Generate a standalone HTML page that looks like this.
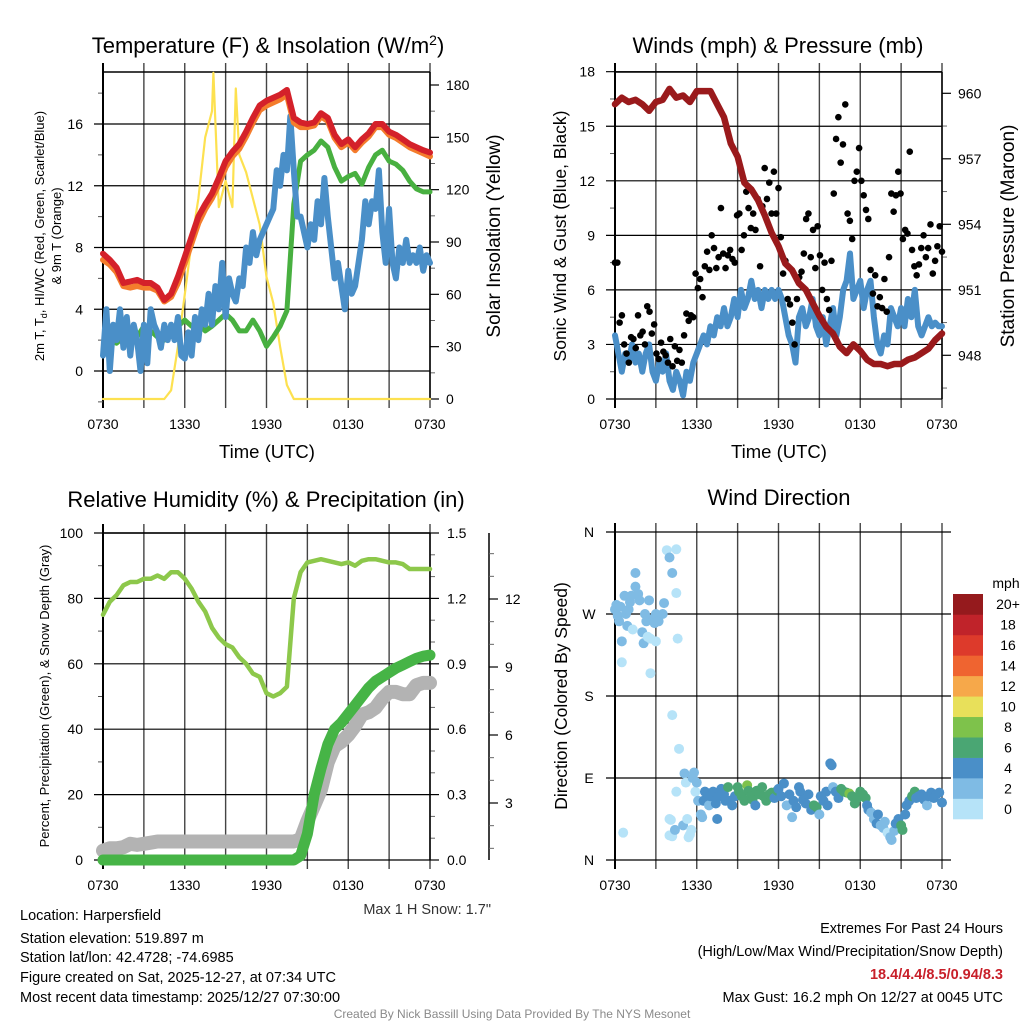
<!DOCTYPE html>
<html><head><meta charset="utf-8"><title>Harpersfield Meteogram</title>
<style>
html,body{margin:0;padding:0;background:#fff;}
svg{display:block;font-family:"Liberation Sans",Arial,sans-serif;}
</style></head>
<body>
<svg id="fig" width="1024" height="1024" viewBox="0 0 1024 1024" xmlns="http://www.w3.org/2000/svg">
<rect x="0" y="0" width="1024" height="1024" fill="#fff"/>
<g id="gTL"></g>
<g id="gTR"></g>
<g id="gBL"></g>
<g id="gBR"></g>
<g id="gTxt">
<text x="268" y="53" font-size="22" text-anchor="middle">Temperature (F) &amp; Insolation (W/m<tspan dy="-8" font-size="14">2</tspan><tspan dy="8">)</tspan></text>
<text x="778" y="53" font-size="22" text-anchor="middle">Winds (mph) &amp; Pressure (mb)</text>
<text x="266" y="507" font-size="22" text-anchor="middle">Relative Humidity (%) &amp; Precipitation (in)</text>
<text x="779" y="505" font-size="22" text-anchor="middle">Wind Direction</text>
<text x="267" y="458" font-size="18.5" text-anchor="middle">Time (UTC)</text>
<text x="779" y="458" font-size="18.5" text-anchor="middle">Time (UTC)</text>
<text transform="translate(44,236) rotate(-90)" font-size="13" text-anchor="middle">2m T, T<tspan dy="3" font-size="9">d</tspan><tspan dy="-3">, HI/WC (Red, Green, Scarlet/Blue)</tspan></text>
<text transform="translate(61,236) rotate(-90)" font-size="13" text-anchor="middle">&amp; 9m T (Orange)</text>
<text transform="translate(500,236) rotate(-90)" font-size="19" text-anchor="middle">Solar Insolation (Yellow)</text>
<text transform="translate(566,236) rotate(-90)" font-size="17.5" text-anchor="middle">Sonic Wind &amp; Gust (Blue, Black)</text>
<text transform="translate(1014,236) rotate(-90)" font-size="19" text-anchor="middle">Station Pressure (Maroon)</text>
<text transform="translate(49,696) rotate(-90)" font-size="13" text-anchor="middle">Percent, Precipitation (Green), &amp; Snow Depth (Gray)</text>
<text transform="translate(567,696) rotate(-90)" font-size="17.5" text-anchor="middle">Direction (Colored By Speed)</text>
<text x="491" y="914" font-size="14.5" fill="#333" text-anchor="end">Max 1 H Snow: 1.7"</text>
<g font-size="14.5" fill="#000">
<text x="20" y="920">Location: Harpersfield</text>
<text x="20" y="943">Station elevation: 519.897 m</text>
<text x="20" y="962">Station lat/lon: 42.4728; -74.6985</text>
<text x="20" y="982">Figure created on Sat, 2025-12-27, at 07:34 UTC</text>
<text x="20" y="1002">Most recent data timestamp: 2025/12/27 07:30:00</text>
</g>
<g font-size="14.5" text-anchor="end">
<text x="1003" y="933">Extremes For Past 24 Hours</text>
<text x="1003" y="956">(High/Low/Max Wind/Precipitation/Snow Depth)</text>
<text x="1003" y="979" fill="#c8202a" font-weight="bold">18.4/4.4/8.5/0.94/8.3</text>
<text x="1003" y="1002">Max Gust: 16.2 mph On 12/27 at 0045 UTC</text>
</g>
<text x="512" y="1018" font-size="12" fill="#8a8a8a" text-anchor="middle">Created By Nick Bassill Using Data Provided By The NYS Mesonet</text>
</g>
</svg>
<script>
// ---------- data (values sampled uniformly over the 24 h window) ----------
const timeLabels = ["0730","1330","1930","0130","0730"];
const tempRed = [7.6,7.2,6.7,5.7,5.8,5.9,5.7,5.7,5.4,4.6,5.0,6.1,7.4,8.7,10.0,10.8,11.5,12.5,13.6,14.2,14.7,15.5,16.4,17.2,17.5,17.7,17.9,18.2,16.4,16.1,16.0,16.1,16.7,16.4,15.3,14.7,15.0,14.5,15.0,15.4,16.0,16.0,15.5,15.3,15.0,14.7,14.5,14.3,14.15];
const temp9m = [7.2,6.9,6.4,5.5,5.4,5.5,5.4,5.4,5.2,4.5,4.8,5.7,7.0,8.3,9.6,10.5,11.2,12.1,13.2,13.9,14.4,15.2,16.1,16.9,17.2,17.4,17.6,17.9,16.1,15.8,15.8,15.9,16.5,16.2,15.1,14.5,14.8,14.3,14.8,15.2,15.8,15.8,15.3,15.1,14.8,14.5,14.3,14.1,13.9];
const dewpoint = [1.4,2.0,1.8,2.2,2.6,2.2,2.9,2.6,2.2,2.0,2.4,2.9,3.3,2.9,3.1,2.6,2.9,3.3,3.7,3.3,2.6,2.6,3.3,2.6,1.6,2.2,2.9,3.9,10.8,13.6,14.0,14.3,14.9,14.5,13.2,12.3,12.6,12.8,12.1,13.2,14.0,14.3,13.6,13.4,13.0,12.3,11.8,11.6,11.6];
const windChill = [1,4,0,3,2,4,1.5,3.5,1,3,2,0,3,0.5,4,3,2.5,1.5,3,2,3,2,3.5,1,0.8,2.5,1,3.5,2,4,3,5,3,5.5,4,7,3.5,6,5,4.5,6,5.5,8,7,9,7.5,8.5,9,9.5,10,10.5,13,12,14,13,16.5,13,10,10,9,8,9.5,8.5,11,9.5,12.5,10,8,6,7,5.5,4,6.5,5,5.5,7,8.5,11,9.5,11,10.5,13,9,7,10.5,7,6,8,7,8.5,7,7.5,7,8,6.5,7.5,7];
const insolation = [0,0,0,0,0,0,0,0,0,0,5,30,60,90,115,150,165,110,125,110,140,130,115,100,70,55,30,8,0,0,0,0,0,0,0,0,0,0,0,0,0,0,0,0,0,0,0,0,0];
const insolPeaks = [[8.1,187],[9.75,178]];
const windSpeed = [3.5,2.5,1.5,2.5,2,3,2,2.5,1.5,2.5,3,1.5,1,2,1.5,2.5,1,0.5,1.5,1,0.2,1.5,1,2,2.5,3,3.5,3,4,3.5,4.5,4,5,4,4.5,5.5,4.5,6,5,5.5,6.5,5.5,6,5,6,5.5,6,5.5,6,5.5,4.5,3.5,3,2,4.5,5,4,4.5,5.5,4,3.5,4.5,3,4,5,3.5,4.5,6,6.5,8,5.5,6,6.5,5,6,6.5,4.5,3,2.5,3.5,3,5,4.5,4,5,4,5.5,4.5,6,4,3.5,4,4.5,4,4.2,4,4];
const windGust = [7.5,7.5,4.2,4.6,3.0,2.5,2.0,3.4,3.3,2.8,4.6,3.5,3.7,3.0,5.1,4.8,3.6,4.1,2.5,2.2,3.1,2.6,2.4,2.0,3.3,1.8,2.9,2.1,2.7,2.0,3.5,4.7,4.3,4.6,4.5,6.9,6.1,6.6,5.6,7.3,8.1,7.1,9.0,8.3,7.2,7.8,10.5,8.0,7.2,7.9,8.2,7.7,7.5,10.1,10.2,8.2,9.0,11.4,10.5,9.4,10.2,9.3,11.0,7.3,10.6,12.7,11.0,11.9,10.2,12.5,10.2,11.6,8.9,6.9,7.6,5.5,5.2,4.2,3.0,5.5,6.7,7.0,8.0,9.9,10.2,7.8,9.3,7.2,9.5,7.9,6.0,7.5,5.5,4.9,7.6,11.3,14.3,15.5,13.0,14.0,16.2,10.2,9.8,8.8,12.0,12.5,13.8,12.0,11.2,10.4,9.9,7.1,5.8,6.8,5.1,5.6,5.0,6.6,4.8,7.8,11.3,10.3,11.2,12.5,11.3,8.8,9.3,9.1,13.6,8.2,7.3,6.8,7.4,8.3,9.0,7.8,8.3,9.6,6.9,7.6,8.4,9.5,8.1];
const pressure = [959.5,959.8,959.6,959.7,959.5,959.2,959.6,959.7,960.2,959.8,959.9,959.6,960.1,960.1,960.1,959.5,958.9,957.7,957.1,955.9,955.6,955.1,954.4,953.6,953.0,952.2,951.9,951.3,951.0,950.4,949.8,949.3,949.0,948.4,948.1,948.5,948.2,947.8,947.6,947.6,947.5,947.6,947.6,947.8,947.9,948.1,948.3,948.7,949.0];
const humidity = [75,79,81,84,85,85,86,86,87,86,88,88,86,83,79,76,71,68,66,65,62,60,57,56,51,50,51,53,80,88,91,91.5,92,91.5,91,90.5,91,90,91.5,92,92,91.5,91,91,90.5,89,89,89,89];
const precip = [0,0,0,0,0,0,0,0,0,0,0,0,0,0,0,0,0,0,0,0,0,0,0,0,0,0,0,0,0,0.02,0.12,0.3,0.42,0.53,0.6,0.63,0.67,0.71,0.75,0.79,0.82,0.84,0.86,0.88,0.895,0.91,0.925,0.935,0.94];
const snowDepth = [0.9,1.0,1.0,1.05,1.2,1.15,1.2,1.25,1.3,1.3,1.3,1.3,1.3,1.3,1.3,1.3,1.3,1.3,1.3,1.3,1.3,1.3,1.3,1.3,1.3,1.3,1.3,1.3,1.3,1.4,2.2,2.9,3.6,4.8,5.5,5.7,6.0,6.4,6.9,7.0,7.2,7.6,7.9,7.9,7.8,7.8,8.2,8.3,8.3];
const dirTimes = [0.0,0.1,0.2,0.3,0.4,0.5,0.5,0.7,0.8,0.9,1.0,1.1,1.2,1.3,1.5,1.5,1.7,1.8,2.0,2.1,2.2,2.3,2.4,2.5,2.6,2.6,2.8,2.9,3.0,3.0,3.2,3.5,3.6,3.8,4.0,4.2,4.2,4.5,4.6,4.5,4.7,0.6,4.0,4.0,4.1,4.2,4.4,4.5,5.0,5.1,5.2,5.3,5.4,5.5,5.6,5.7,5.8,5.9,6.0,6.1,6.3,6.4,6.5,6.6,6.8,6.9,7.0,7.2,7.4,7.5,7.6,7.8,8.0,8.1,8.3,8.4,8.6,8.8,9.0,9.1,9.3,9.5,9.7,9.8,10.0,10.1,10.3,10.4,10.6,10.8,10.9,11.1,11.3,11.5,11.7,11.9,12.0,12.2,12.4,12.6,12.8,13.0,13.1,13.3,13.5,13.6,13.8,14.0,14.2,14.4,14.6,14.8,15.0,15.1,15.3,15.5,15.6,15.8,15.9,16.0,16.2,16.4,16.6,16.8,17.0,17.2,17.4,17.6,17.8,18.0,18.2,18.4,18.5,18.6,18.8,19.0,19.2,19.3,19.5,19.7,19.8,20.0,20.2,20.3,20.5,20.6,20.8,21.0,21.1,21.3,21.4,21.6,21.8,22.0,22.1,22.3,22.5,22.7,22.9,23.0,23.2,23.4,23.6,23.8,24.0];
const dirDegrees = [275,280,268,262,278,217,240,290,270,257,275,283,290,253,300,315,292,285,250,238,270,262,245,285,205,243,265,260,240,270,262,270,282,340,332,315,159,341,243,293,122,30,45,27,44,26,33,75,38,95,85,45,25,28,33,90,96,75,85,65,50,47,65,75,73,60,70,75,62,45,70,78,72,65,80,65,60,70,80,75,70,65,82,76,70,66,60,76,72,80,70,65,72,74,68,76,78,70,84,60,72,47,65,58,80,75,66,62,72,55,60,58,50,70,65,75,60,106,104,80,75,68,78,75,74,73,70,62,68,75,72,68,60,55,52,45,40,50,38,35,42,30,25,22,32,40,45,38,33,50,60,65,70,75,68,70,72,66,60,70,74,68,72,74,63];
const dirSpeeds = [3,3,3,3,3,1,3,3,3,3,3,2,3,1,3,3,3,3,3,3,3,3,1,3,1,1,3,3,1,3,3,3,3,1,3,3,1,1,1,1,1,1,1,1,1,1,2,1,2,2,1,1,1,1,1,2,2,1,3,3,2,2,4,4,4,3,4,4,4,4,4,4,4,4,6,4,4,4,6,6,6,6,8,7,6,6,4,6,6,6,6,6,6,6,5,6,4,4,4,3,4,2,4,4,4,4,4,4,4,4,6,6,3,4,4,4,4,4,4,3,4,4,6,6,7,8,6,6,6,6,6,6,4,4,2,3,4,4,2,2,2,1,2,2,3,4,4,6,6,4,4,4,6,6,4,4,4,4,3,4,4,4,4,4,4];
const speedBins = ["0","2","4","6","8","10","12","14","16","18","20+"];
const speedColors = ["#b6e3f8","#7fbbe4","#4a8fc8","#4aa673","#7ec24b","#e8e05a","#f6a84a","#ef6430","#dd3a2b","#c0232a","#951a1d"];

// ---------- helpers ----------
const NS = "http://www.w3.org/2000/svg";
function mk(parent, tag, attrs){
  const e = document.createElementNS(NS, tag);
  for (const k in attrs) e.setAttribute(k, attrs[k]);
  parent.appendChild(e);
  return e;
}
function linear(d0, d1, r0, r1){ return v => r0 + (v - d0) * (r1 - r0) / (d1 - d0); }
function uniformX(arr, i){ return i * 24 / (arr.length - 1); }

function frame(g, P, name){
  const xs = linear(0, 24, P.x0, P.x1);
  for (let h = 0; h <= 24; h += 3){
    const ln = mk(g, "line", {x1: xs(h), x2: xs(h), y1: P.y0 - 9, y2: P.y1 + 9, stroke: (h===0)?"#000":"#444", "stroke-width": (h===0)?2:1.4});
    
    
  }
  timeLabels.forEach((t, i) => {
    const tx = mk(g, "text", {x: xs(i * 6), y: P.y1 + 30, "font-size": 14, "text-anchor": "middle"});
    tx.textContent = t;
    
    
  });
  return xs;
}
function hgrid(g, P, ys, ticks, minor, labels, name){
  ticks.forEach((v, i) => {
    const ln = mk(g, "line", {x1: P.x0 - 9, x2: P.x1, y1: ys(v), y2: ys(v), stroke: "#000", "stroke-width": 1.2});
    
    
    const tx = mk(g, "text", {x: P.x0 - 20, y: ys(v) + 5, "font-size": 14, "text-anchor": "end"});
    tx.textContent = labels[i];
    
    
  });
  minor.forEach(v => {
    const ln = mk(g, "line", {x1: P.x0 - 5, x2: P.x0, y1: ys(v), y2: ys(v), stroke: "#555", "stroke-width": 1});
    
    
  });
}
function rightAxis(g, x, ys, ticks, minor, labels, name, lx){
  ticks.forEach((v, i) => {
    const ln = mk(g, "line", {x1: x, x2: x + 9, y1: ys(v), y2: ys(v), stroke: "#000", "stroke-width": 1.2});
    
    
    const tx = mk(g, "text", {x: lx, y: ys(v) + 5, "font-size": 14});
    tx.textContent = labels[i];
    
    
  });
  minor.forEach(v => {
    const ln = mk(g, "line", {x1: x, x2: x + 5, y1: ys(v), y2: ys(v), stroke: "#666", "stroke-width": 1});
    
    
  });
}
function series(g, arr, xs, ys, color, width, name, extra){
  let pts = arr.map((v, i) => [uniformX(arr, i), v]);
  if (extra) { pts = pts.concat(extra).sort((a, b) => a[0] - b[0]); }
  const d = pts.map((p, i) => (i ? "L" : "M") + xs(p[0]).toFixed(1) + "," + ys(p[1]).toFixed(1)).join("");
  const p = mk(g, "path", {d: d, fill: "none", stroke: color, "stroke-width": width, "stroke-linejoin": "round", "stroke-linecap": "round"});
  
  
  return p;
}
function border(g, P, name){
  const t = mk(g, "line", {x1: P.x0, x2: P.x1, y1: P.y0, y2: P.y0, stroke: "#000", "stroke-width": 1.5});
  
  
  const r = mk(g, "line", {x1: P.x1, x2: P.x1, y1: P.y0, y2: P.y1, stroke: "#000", "stroke-width": 1.5});
  
  
  const l = mk(g, "line", {x1: P.x0, x2: P.x0, y1: P.y0, y2: P.y1, stroke: "#000", "stroke-width": 2});
  
  
}

// ---------- Temperature panel ----------
(function(){
  const g = document.getElementById("gTL");
  const P = {x0: 103, x1: 430, y0: 72, y1: 399};
  const xs = frame(g, P, "temperature");
  const ys = linear(0, 16, 371, 124);
  const yr = linear(0, 180, 399, 85);
  hgrid(g, P, ys, [0,4,8,12,16], [-2,2,6,10,14,18], ["0","4","8","12","16"], "temperature");
  rightAxis(g, P.x1, yr, [0,30,60,90,120,150,180], [15,45,75,105,135,165], ["0","30","60","90","120","150","180"], "insolation-axis", 446);
  border(g, P, "temperature");
  series(g, insolation, xs, yr, "#fde150", 2.2, "insolation-line", insolPeaks);
  series(g, dewpoint, xs, ys, "#48b040", 5, "dewpoint-line");
  series(g, windChill, xs, ys, "#4a8fc8", 6, "wind-chill-line");
  series(g, temp9m, xs, ys, "#f47c2c", 6, "temp-9m-line");
  series(g, tempRed, xs, ys, "#d4212a", 6, "temp-2m-line");
})();

// ---------- Winds panel ----------
(function(){
  const g = document.getElementById("gTR");
  const P = {x0: 615, x1: 942, y0: 72, y1: 399};
  const xs = frame(g, P, "winds");
  const ys = linear(0, 18, 399, 71.7);
  const yp = linear(948, 960, 355.3, 93.3);
  hgrid(g, P, ys, [0,3,6,9,12,15,18], [1.5,4.5,7.5,10.5,13.5,16.5], ["0","3","6","9","12","15","18"], "winds");
  rightAxis(g, P.x1, yp, [948,951,954,957,960], [946.5,949.5,952.5,955.5,958.5], ["948","951","954","957","960"], "pressure-axis", 958);
  border(g, P, "winds");
  series(g, windSpeed, xs, ys, "#4a8fc8", 6, "sonic-wind-line");
  windGust.forEach((v, i) => {
    const c = mk(g, "circle", {cx: xs(uniformX(windGust, i)), cy: ys(v), r: 3.3, fill: "#000"});
    
    
  });
  series(g, pressure, xs, yp, "#9a1a1c", 6.5, "pressure-line");
})();

// ---------- Humidity panel ----------
(function(){
  const g = document.getElementById("gBL");
  const P = {x0: 103, x1: 430, y0: 533, y1: 860};
  const xs = frame(g, P, "humidity");
  const ys = linear(0, 100, 860, 533);
  const yr = linear(0, 1.5, 860, 533);
  const yn = linear(0, 12, 871, 599);
  hgrid(g, P, ys, [0,20,40,60,80,100], [10,30,50,70,90], ["0","20","40","60","80","100"], "humidity");
  rightAxis(g, P.x1, yr, [0,0.3,0.6,0.9,1.2,1.5], [0.1,0.2,0.4,0.5,0.7,0.8,1.0,1.1,1.3,1.4], ["0.0","0.3","0.6","0.9","1.2","1.5"], "precip-axis", 447);
  const sl = mk(g, "line", {x1: 489, x2: 489, y1: 533, y2: 860, stroke: "#000", "stroke-width": 1.5});
  
  
  rightAxis(g, 489, yn, [3,6,9,12], [1,2,4,5,7,8,10,11,13,14], ["3","6","9","12"], "snow-axis", 505);
  border(g, P, "humidity");
  series(g, humidity, xs, ys, "#8dc84b", 4.5, "humidity-line");
  series(g, snowDepth, xs, yn, "#b3b3b3", 14, "snow-depth-line");
  series(g, precip, xs, yr, "#46b446", 11, "precipitation-line");
})();

// ---------- Wind direction panel ----------
(function(){
  const g = document.getElementById("gBR");
  const P = {x0: 615, x1: 942, y0: 532, y1: 860};
  const xs = frame(g, P, "direction");
  const ys = linear(0, 360, 860, 532);
  const dirLabels = ["N","E","S","W","N"];
  [0,90,180,270,360].forEach((v, i) => {
    const ln = mk(g, "line", {x1: P.x0 - 9, x2: P.x1 + 9, y1: ys(v), y2: ys(v), stroke: "#000", "stroke-width": 1.2});
    
    
    const tx = mk(g, "text", {x: P.x0 - 26, y: ys(v) + 5, "font-size": 14, "text-anchor": "middle"});
    tx.textContent = dirLabels[i];
    
    
  });
  const lb = mk(g, "line", {x1: P.x0, x2: P.x0, y1: P.y0, y2: P.y1, stroke: "#000", "stroke-width": 2});
  
  
  dirTimes.forEach((t, i) => {
    const bin = Math.min(10, Math.floor(dirSpeeds[i] / 2));
    const c = mk(g, "circle", {cx: xs(t), cy: ys(dirDegrees[i]), r: 5, fill: speedColors[bin]});
    
    
  });
  const cbTop = 594, cbBot = 819, n = speedBins.length, h = (cbBot - cbTop) / n;
  const mph = mk(g, "text", {x: 1006, y: 588, "font-size": 14, "text-anchor": "middle"});
  mph.textContent = "mph";
  
  
  speedBins.forEach((lab, i) => {
    const y = cbBot - (i + 1) * h;
    const r = mk(g, "rect", {x: 953, y: y, width: 30, height: h + 0.3, fill: speedColors[i]});
    
    
    const tx = mk(g, "text", {x: 1008, y: y + h / 2 + 5, "font-size": 14, "text-anchor": "middle"});
    tx.textContent = lab;
    
    
  });
})();
</script>
</body></html>
